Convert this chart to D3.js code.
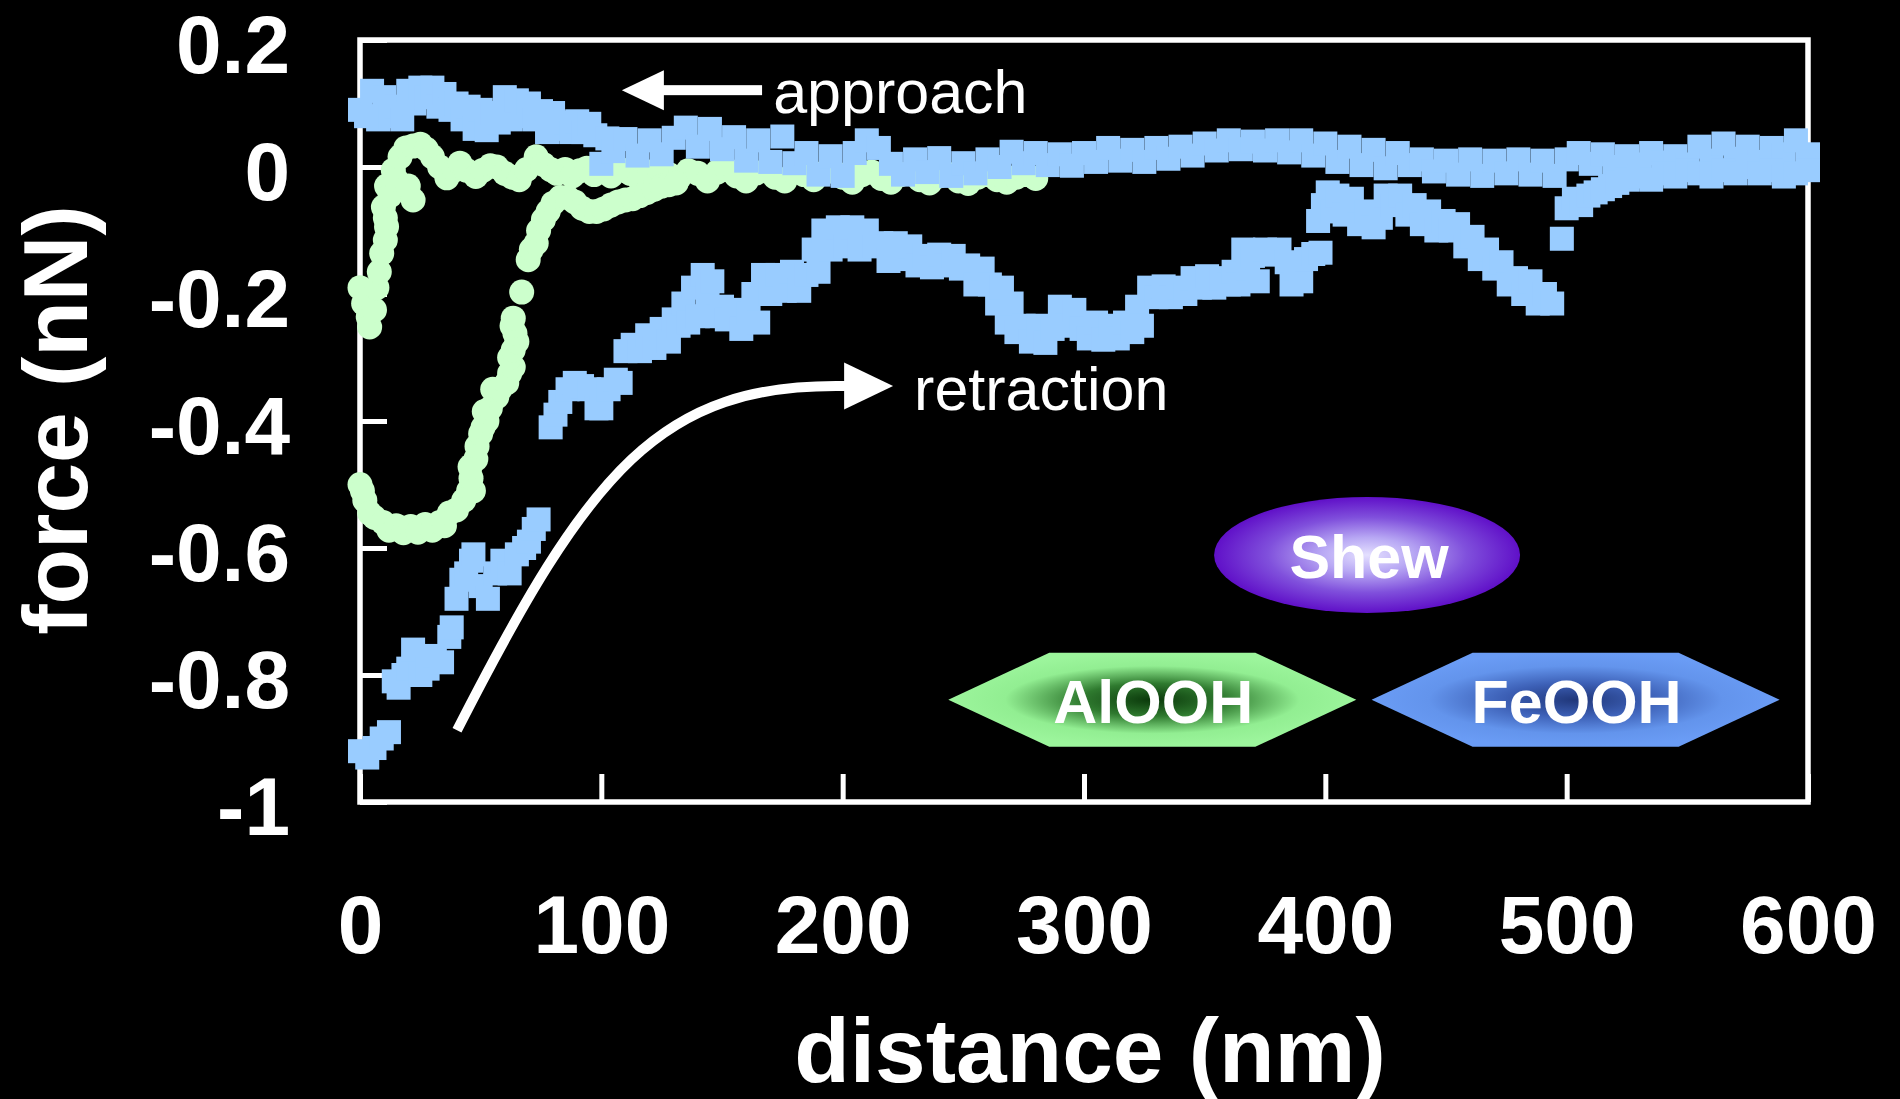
<!DOCTYPE html>
<html><head><meta charset="utf-8">
<script src="https://cdn.jsdelivr.net/npm/d3@7"></script>
<style>
html,body{margin:0;background:#000;overflow:hidden}
svg{display:block;font-family:"Liberation Sans",Arial,sans-serif}
</style></head><body>
<svg id="chart" width="1900" height="1099"></svg>
<script>
// axis ticks
const xTicks=[0,100,200,300,400,500,600];
const yTicks=[0.2,0,-0.2,-0.4,-0.6,-0.8,-1];
const yTickLabels=["0.2","0","-0.2","-0.4","-0.6","-0.8","-1"];

// FeOOH (blue squares) : [distance nm, force nN]
const feApproach=[[0,0.09],[2.5,0.08],[5,0.12],[7.5,0.075],[10,0.11],[12.5,0.08],[15,0.095],[17.5,0.075],[20,0.12],[22.5,0.1],
 [25,0.125],[27.5,0.11],[30,0.125],[32.5,0.095],[35,0.115],[37.5,0.09],[40,0.1],[42.5,0.075],[45,0.095],[47.5,0.06],
 [50,0.09],[52.5,0.058],[55,0.085],[57.5,0.07],[60,0.11],[62.5,0.075],[65,0.105],[67.5,0.08],[70,0.1],[72.5,0.075],
 [75,0.088],[77.5,0.055],[80,0.085],[82.5,0.06],[85,0.07],[87.5,0.055],[90,0.072],[92.5,0.055],[95,0.068],[97.5,0.05],
 [100,0.005],[102.5,0.045],[105,0.025],[110,0.044],[115,0.018],[120,0.042],[125,0.02],[130,0.046],[135,0.062],[140,0.032],
 [145,0.06],[150,0.028],[155,0.047],[160,0.01],[165,0.042],[170,0.008],[175,0.048],[180,0.006],[185,0.022],[190,-0.012],
 [195,0.017],[200,-0.014],[205,0.022],[210,0.042],[215,0.03],[220,0.005],[225,-0.012],[230,0.012],[235,-0.008],[240,0.014],
 [245,-0.014],[250,0.006],[255,-0.01],[260,0.012],[265,0.0],[270,0.024],[275,0.006],[280,0.022],[285,0.003],[290,0.02],
 [295,0.002],[300,0.022],[305,0.008],[310,0.03],[315,0.01],[320,0.027],[325,0.008],[330,0.03],[335,0.013],[340,0.032],
 [345,0.018],[350,0.037],[355,0.026],[360,0.042],[365,0.028],[370,0.04],[375,0.026],[380,0.042],[385,0.023],[390,0.042],
 [395,0.018],[400,0.037],[405,0.008],[410,0.032],[415,0.003],[420,0.027],[425,-0.002],[430,0.022],[435,0.003],[440,0.012],
 [445,-0.007],[450,0.01],[455,-0.012],[460,0.012],[465,-0.014],[470,0.01],[475,-0.01],[480,0.012],[485,-0.012],[490,0.01],
 [495,-0.014],[500,0.012],[505,0.022],[510,0.005],[515,0.02],[520,0.0],[525,0.017],[530,0.004],[535,0.022],[540,0.007],
 [545,0.017],[550,0.004],[555,0.032],[560,0.01],[565,0.037],[570,0.013],[575,0.032],[580,0.008],[585,0.03],[590,0.02],
 [595,0.042],[600,0.02]];
const feRetract=[[0,-0.92],[3,-0.93],[6,-0.915],[9,-0.9],[12,-0.89],
 [14,-0.81],[16,-0.82],[18,-0.8],[20,-0.79],[22,-0.76],[25,-0.8],[28,-0.79],[31,-0.77],[34,-0.78],[37,-0.74],[38,-0.725],
 [40,-0.68],[42,-0.65],[44,-0.64],[46,-0.62],[47,-0.61],[50,-0.66],[53,-0.68],[56,-0.64],[59,-0.62],[62,-0.64],[65,-0.61],
 [68,-0.6],[70,-0.59],[72,-0.57],[74,-0.555],
 [79,-0.41],[81,-0.39],[83,-0.37],[86,-0.35],[89,-0.34],[92,-0.345],[95,-0.35],[98,-0.38],[100,-0.38],[103,-0.35],[106,-0.335],
 [108,-0.34],[110,-0.29],[113,-0.28],[116,-0.29],[119,-0.265],[122,-0.285],[125,-0.255],[128,-0.275],[130,-0.24],[132,-0.25],
 [134,-0.215],[136,-0.245],[138,-0.19],[140,-0.235],[142,-0.17],[144,-0.2],[146,-0.18],[148,-0.235],[150,-0.22],[152,-0.24],
 [155,-0.225],[158,-0.255],[161,-0.23],[163,-0.2],[165,-0.245],[167,-0.17],[170,-0.2],[173,-0.17],[176,-0.195],[179,-0.165],
 [182,-0.195],[185,-0.17],[188,-0.13],[190,-0.165],[192,-0.1],[195,-0.13],[198,-0.095],[201,-0.125],[204,-0.095],[207,-0.13],
 [210,-0.1],[213,-0.125],[216,-0.12],[219,-0.148],[222,-0.12],[225,-0.145],[228,-0.125],[231,-0.155],[234,-0.14],[237,-0.158],
 [240,-0.138],[243,-0.155],[246,-0.14],[249,-0.16],[252,-0.155],[255,-0.185],[258,-0.16],[261,-0.185],[264,-0.215],[266,-0.19],
 [268,-0.245],[270,-0.215],[272,-0.26],[275,-0.25],[278,-0.275],[281,-0.25],[284,-0.277],[287,-0.255],[290,-0.22],[293,-0.25],
 [296,-0.225],[299,-0.255],[302,-0.27],[305,-0.245],[308,-0.272],[311,-0.25],[314,-0.27],[317,-0.245],[320,-0.26],[322,-0.22],
 [324,-0.25],[327,-0.19],[330,-0.205],[333,-0.188],[336,-0.205],[339,-0.19],[342,-0.2],[345,-0.175],[348,-0.19],[351,-0.172],
 [354,-0.19],[357,-0.175],[360,-0.185],[362,-0.165],[364,-0.185],[366,-0.13],[368,-0.16],[370,-0.14],[372,-0.18],[375,-0.13],
 [378,-0.138],[381,-0.13],[384,-0.15],[386,-0.185],[388,-0.16],[390,-0.18],[392,-0.145],[395,-0.137],[398,-0.135],
 [397,-0.085],[399,-0.06],[401,-0.04],[403,-0.07],[405,-0.045],[408,-0.075],[411,-0.05],[414,-0.09],[417,-0.07],[420,-0.095],
 [423,-0.08],[425,-0.045],[428,-0.06],[431,-0.045],[434,-0.075],[437,-0.06],[440,-0.09],[443,-0.07],[446,-0.1],[449,-0.085],
 [452,-0.1],[455,-0.09],[458,-0.125],[461,-0.11],[464,-0.145],[467,-0.13],[470,-0.16],[473,-0.15],[476,-0.185],[479,-0.175],
 [482,-0.2],[485,-0.18],[488,-0.215],[491,-0.2],[494,-0.215],
 [498,-0.113],
 [500,-0.065],[503,-0.05],[506,-0.06],[509,-0.045],[512,-0.04],[515,-0.035],[518,-0.03],[521,-0.025],[525,-0.02],[530,-0.015],
 [535,-0.02],[540,-0.01],[545,-0.015],[550,-0.005],[555,-0.01],[560,-0.015],[565,-0.005],[570,-0.01],[575,0.0],[580,-0.01],
 [585,-0.005],[590,-0.015],[595,-0.01],[600,-0.005]];

// AlOOH (green circles)
const alApproach=[[0,-0.19],[1.5,-0.215],[3.4,-0.236],[4,-0.252],[6,-0.225],[7,-0.19],[8,-0.165],[9,-0.136],[10.5,-0.115],
 [11,-0.094],[9.7,-0.063],[10.5,-0.08],[11,-0.03],[12.5,-0.045],[13.8,-0.005],[15,-0.02],[16.6,0.016],[19,0.03],[20,-0.03],
 [22,-0.052],[22,0.033],[25,0.036],[27.5,0.028],[30,0.016],[33,0.0],[36,-0.017],[39,-0.005],[41.4,0.006],[44,-0.005],
 [48,-0.015],[51,-0.005],[54,0.002],[56.7,0.0],[60,-0.01],[63,-0.016],[66,-0.02],[69,-0.004],[73,0.016],[76,0.004],
 [79,-0.004],[81.6,-0.01],[85,-0.004],[88,-0.014],[91,-0.006],[94,-0.002],[97,-0.012],[100,-0.006],[104,-0.014],[108,-0.004],
 [112,-0.01],[116,-0.02],[120,-0.008],[124,-0.004],[128,-0.012],[132,-0.018],[136,-0.006],[140,-0.01],[144,-0.022],[148,-0.008],
 [152,-0.004],[156,-0.014],[160,-0.022],[164,-0.01],[168,-0.006],[172,-0.016],[176,-0.022],[180,-0.008],[184,-0.012],[188,-0.02],
 [192,-0.01],[196,-0.006],[200,-0.016],[204,-0.024],[208,-0.012],[212,-0.008],[216,-0.018],[220,-0.024],[224,-0.012],[228,-0.01],
 [232,-0.02],[236,-0.025],[240,-0.014],[244,-0.012],[248,-0.022],[252,-0.026],[256,-0.016],[260,-0.012],[264,-0.02],[268,-0.024],
 [272,-0.016],[276,-0.012],[280,-0.018]];
const alRetract=[[0,-0.5],[1,-0.51],[2,-0.525],[4,-0.545],[6,-0.552],[9.6,-0.56],[12,-0.572],[15,-0.565],[18,-0.576],[21,-0.566],
 [24,-0.575],[27,-0.563],[30,-0.572],[33,-0.56],[35,-0.565],[37,-0.545],[40,-0.54],[43,-0.525],[45,-0.51],[47,-0.51],
 [46,-0.49],[45.6,-0.472],[48,-0.46],[48.5,-0.44],[50,-0.42],[51,-0.41],[52.6,-0.4],[51.5,-0.385],[54,-0.38],[56.7,-0.362],
 [55,-0.35],[58,-0.35],[60.8,-0.34],[62,-0.325],[63.5,-0.315],[62,-0.3],[63.5,-0.288],[65,-0.275],[64.2,-0.262],[63,-0.25],
 [63.5,-0.238],
 [67,-0.197],
 [69.7,-0.146],[71,-0.13],[73,-0.12],[74,-0.1],[76,-0.083],[78,-0.07],[80,-0.057],[83,-0.048],[86,-0.048],
 [89,-0.055],[92,-0.065],[95,-0.07],[98,-0.07],[101,-0.066],[104,-0.06],[107,-0.055],[110,-0.052],[113,-0.05],[116,-0.045],
 [119,-0.04],[122,-0.035],[125,-0.03],[128,-0.028],[131,-0.025]];

const W=1900,H=1099, m={l:360,r:1808,t:40,b:802};
const FONT_B="bold", white="#fff";
const svg=d3.select("#chart");
svg.append("rect").attr("width",W).attr("height",H).attr("fill","#000");

const x=d3.scaleLinear().domain([0,600]).range([m.l,m.r]);
const y=d3.scaleLinear().domain([-1,0.2]).range([m.b,m.t]);

// gradients for the legend badges
const defs=svg.append("defs");
function radial(id,stops){
  const g=defs.append("radialGradient").attr("id",id);
  stops.forEach(([o,c])=>g.append("stop").attr("offset",o).attr("stop-color",c));
}
radial("gShew",[["0%","#e4e0ff"],["30%","#b8a8f4"],["65%","#8050dc"],["100%","#6010c8"]]);
radial("gAl",[["0%","#0a380a"],["35%","#2f7a2f"],["72%","#92ee92"],["100%","#9cf59c"]]);
radial("gFe",[["0%","#20377a"],["35%","#3c5fb5"],["72%","#6394ec"],["100%","#6a9cf5"]]);

// axes (inward ticks) + frame
const xAxis=d3.axisBottom(x).tickValues(xTicks).tickSize(-28).tickPadding(93).tickFormat(d3.format("d"));
const yAxis=d3.axisLeft(y).tickValues(yTicks).tickSize(-27).tickPadding(70).tickFormat((d,i)=>yTickLabels[i]);
const gx=svg.append("g").attr("transform",`translate(0,${m.b})`).call(xAxis);
const gy=svg.append("g").attr("transform",`translate(${m.l},0)`).call(yAxis);
[gx,gy].forEach(g=>{
  g.select(".domain").remove();
  g.selectAll(".tick line").attr("stroke",white).attr("stroke-width",5);
  g.selectAll(".tick text").attr("fill",white).attr("font-size",82).attr("font-weight",FONT_B)
   .attr("font-family","'Liberation Sans',Arial,sans-serif");
});
gy.selectAll(".tick text").attr("dy","0.4em");
svg.append("rect").attr("x",m.l).attr("y",m.t).attr("width",m.r-m.l).attr("height",m.b-m.t)
  .attr("fill","none").attr("stroke",white).attr("stroke-width",5.5);

// axis titles
svg.append("text").attr("x",1090).attr("y",1082).attr("text-anchor","middle")
  .attr("fill",white).attr("font-size",91).attr("font-weight",FONT_B).text("distance (nm)");
svg.append("text").attr("transform","translate(87,420) rotate(-90)").attr("text-anchor","middle")
  .attr("fill",white).attr("font-size",91).attr("font-weight",FONT_B).text("force (nN)");

// data marks: green circles under blue squares
const green="#ccffcc", blue="#99ccff", R=12.5, S=24;
svg.append("g").selectAll("circle").data(alApproach.concat(alRetract)).join("circle")
  .attr("cx",d=>x(d[0])).attr("cy",d=>y(d[1])).attr("r",R).attr("fill",green);
svg.append("g").selectAll("rect").data(feApproach.concat(feRetract)).join("rect")
  .attr("x",d=>x(d[0])-S/2).attr("y",d=>y(d[1])-S/2).attr("width",S).attr("height",S).attr("fill",blue);

// annotations: approach arrow
const ann=svg.append("g").attr("fill",white);
{
  const tx=x(108.5), ty=y(0.121);
  ann.append("path").attr("d",`M${tx},${ty} L${tx+42},${ty-20} L${tx+42},${ty+20} Z`);
  ann.append("rect").attr("x",tx+40).attr("y",ty-5).attr("width",x(166.6)-tx-40).attr("height",10);
  ann.append("text").attr("x",x(171.2)).attr("y",y(0.085)).attr("font-size",61).text("approach");
}
// retraction arrow
{
  const p0=[x(40.2),y(-0.887)], c1=[x(95.3),y(-0.477)], c2=[x(124.3),y(-0.34)], p1=[x(201),y(-0.345)];
  ann.append("path").attr("d",`M${p0} C${c1} ${c2} ${p1}`).attr("fill","none").attr("stroke",white).attr("stroke-width",10);
  const hx=x(200.6), hy=y(-0.345);
  ann.append("path").attr("d",`M${hx},${hy-23.5} L${x(220.9)},${hy} L${hx},${hy+23.5} Z`);
  ann.append("text").attr("x",x(229.6)).attr("y",y(-0.383)).attr("font-size",61).text("retraction");
}

// legend badges
const badges=svg.append("g");
{
  const cx=x(417.3), cy=y(-0.611);
  badges.append("ellipse").attr("cx",cx).attr("cy",cy).attr("rx",153).attr("ry",58).attr("fill","url(#gShew)");
  badges.append("text").attr("x",cx+2).attr("y",cy+23).attr("text-anchor","middle").attr("fill",white)
    .attr("font-size",61).attr("font-weight",FONT_B).text("Shew");
}
function hex(cx,cy,label,grad){
  const hw=204, iw=103, hh=47;
  const pts=[[cx-hw,cy],[cx-iw,cy-hh],[cx+iw,cy-hh],[cx+hw,cy],[cx+iw,cy+hh],[cx-iw,cy+hh]];
  badges.append("polygon").attr("points",pts.map(p=>p.join(",")).join(" ")).attr("fill",`url(#${grad})`);
  badges.append("text").attr("x",cx+1).attr("y",cy+23).attr("text-anchor","middle").attr("fill",white)
    .attr("font-size",61).attr("font-weight",FONT_B).text(label);
}
hex(x(328.3),y(-0.839),"AlOOH","gAl");
hex(x(503.7),y(-0.839),"FeOOH","gFe");
</script>
</body></html>
